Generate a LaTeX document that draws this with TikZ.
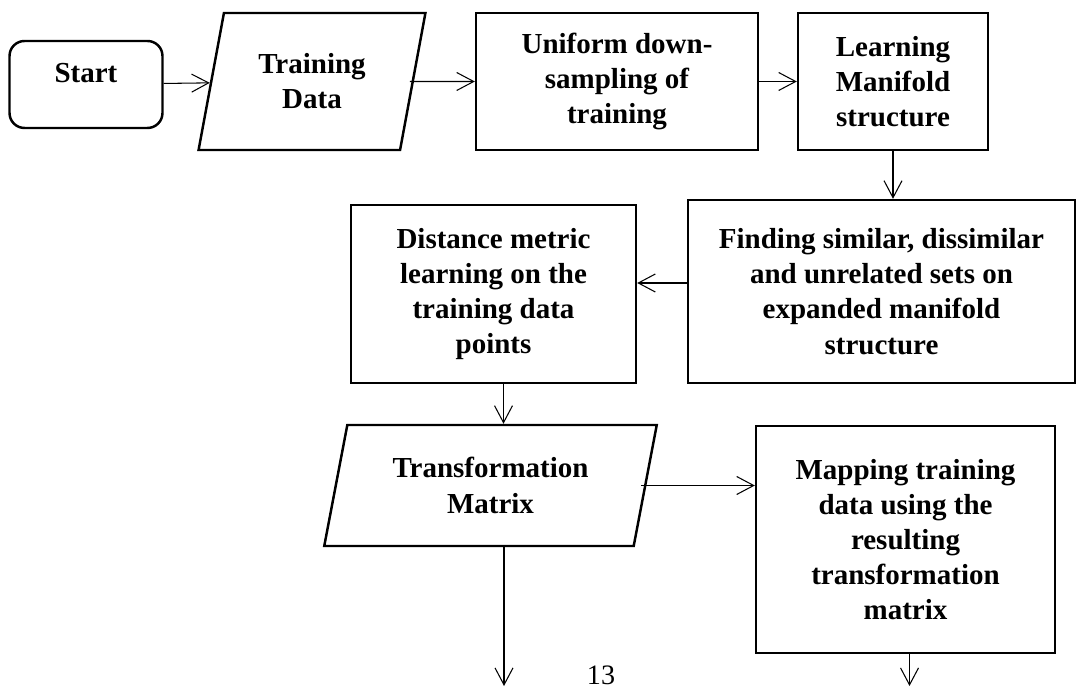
\documentclass[tikz,border=0pt]{standalone}
\usepackage{fontspec}
\setmainfont{Liberation Serif}
\usetikzlibrary{shapes.geometric,arrows.meta}

\begin{document}
\begin{tikzpicture}[>={Straight Barb[length=3.4mm,width=3.6mm]}, x=0.02cm, y=-0.02cm,
  box/.style={draw, line width=1.4pt, align=center, font=\bfseries\fontsize{16.5}{20}\selectfont},
  io/.style={box, trapezium, trapezium stretches=true},
  link/.style={->, line width=0.6pt}]
\useasboundingbox (0,0) rectangle (1077,688);

% === Top row ===
\node[box, rounded corners=0.3cm, minimum width=3.06cm, minimum height=1.74cm, text depth=0.47cm]
  (Start) at (86,84.5) {Start};
\node[io, trapezium left angle=75.7, trapezium right angle=104.3, minimum width=4.56cm, minimum height=2.74cm]
  (TrainData) at (312,81.5) {Training\\Data};
\node[box, minimum width=5.64cm, minimum height=2.74cm]
  (DownSample) at (617,81.5) {Uniform down-\\sampling of\\training};
\node[box, minimum width=3.8cm, minimum height=2.74cm]
  (Manifold) at (893,81.5) {Learning\\Manifold\\structure};

% === Middle row ===
\node[box, minimum width=7.74cm, minimum height=3.66cm]
  (SimSets) at (881.5,291.5) {Finding similar, dissimilar\\and unrelated sets on\\expanded manifold\\structure};
\node[box, minimum width=5.7cm, minimum height=3.56cm]
  (Metric) at (493.5,294) {Distance metric\\learning on the\\training data\\points};

% === Bottom row ===
\node[io, trapezium left angle=76.1, trapezium right angle=103.9, minimum width=6.66cm, minimum height=2.42cm]
  (TransMatrix) at (490.5,485.5) {Transformation\\Matrix};
\node[box, minimum width=5.98cm, minimum height=4.54cm]
  (Mapping) at (905.5,539.5) {Mapping training\\data using the\\resulting\\transformation\\matrix};

% page number
\node[font=\fontsize{16}{20}\selectfont, inner sep=0pt, anchor=base] (PageNum) at (601,684) {13};

% === Connections ===
\draw[link] (Start) -- (TrainData);
\draw[link] ([xshift=-0.08cm]TrainData.east) -- (DownSample);
\draw[link] (DownSample) -- (Manifold);
\draw[link] (Manifold.south) -- (Manifold.south |- SimSets.north);
\draw[link] ([yshift=0.17cm]SimSets.west) -- ([yshift=0.17cm]SimSets.west -| Metric.east);
\draw[link] ([xshift=0.2cm]Metric.south) -- ([xshift=0.2cm]Metric.south |- TransMatrix.north);
\draw[link] ([xshift=-0.1cm]TransMatrix.east) -- (TransMatrix.east -| Mapping.west);

% Outputs
\coordinate (MatrixOut) at (504,686);
\coordinate (MappingOut) at (909.5,686);
\draw[link] (TransMatrix.south -| MatrixOut) -- (MatrixOut);
\draw[link] (Mapping.south -| MappingOut) -- (MappingOut);

\end{tikzpicture}
\end{document}
